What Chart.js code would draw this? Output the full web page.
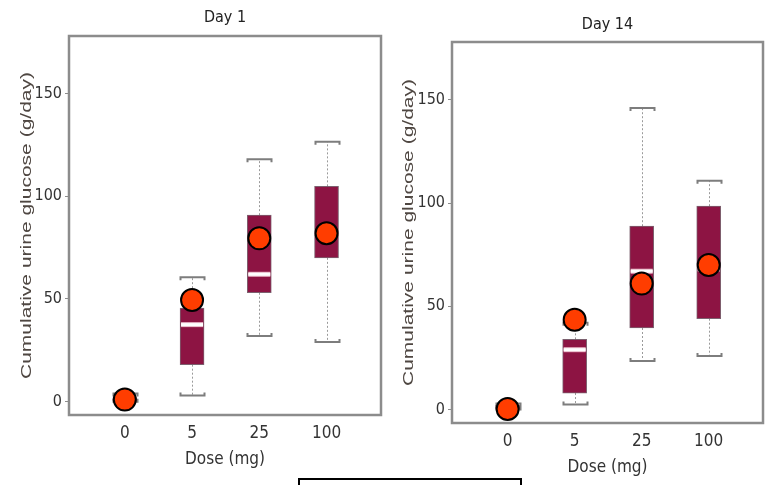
<!DOCTYPE html>
<html>
<head>
<meta charset="utf-8">
<script src="https://cdn.jsdelivr.net/npm/chart.js@4.4.1/dist/chart.umd.min.js"></script>
<style>
  html, body { margin: 0; padding: 0; background: #fff; }
  #page { position: relative; width: 768px; height: 485px; overflow: hidden; background: #fff; }
  canvas { position: absolute; top: 0; }
  #day1 { left: 0; }
  #day14 { left: 390px; }
  #keyBox { position: absolute; left: 298px; top: 478px; width: 220px; height: 20px; border: 2px solid #000; background: #fff; }
</style>
</head>
<body>
<div id="page">
  <canvas id="day1" width="390" height="485"></canvas>
  <canvas id="day14" width="378" height="485"></canvas>
  <div id="keyBox"></div>
</div>
<script>
// Dose groups and value-axis ticks
const doses = ['0', '5', '25', '100'];
const yTicks = [0, 50, 100, 150];
const yTitle = 'Cumulative urine glucose (g/day)';
const xTitle = 'Dose (mg)';

// Day 1: box statistics and group means (g/day)
const day1Min    = [0,   3,    32,   29];
const day1Q1     = [0,   18,   53,   70];
const day1Median = [0.5, 37.5, 62,   82];
const day1Q3     = [2,   45.5, 90.8, 104.8];
const day1Max    = [4,   60.5, 118,  126.5];
const day1Mean   = [1,   49.5, 79.5, 82];

// Day 14: box statistics and group means (g/day)
const day14Min    = [0,   2.5, 23.5, 26];
const day14Q1     = [0,   8,   39.5, 44];
const day14Median = [0.5, 29,  67,   68];
const day14Q3     = [2,   34,  88.8, 98.5];
const day14Max    = [3,   42,  146,  110.8];
const day14Mean   = [0.3, 43.5, 61,  70];

const NARROW = '"Liberation Sans Narrow", "Arial Narrow", "DejaVu Sans Condensed", sans-serif';
const REGULAR = '"Liberation Sans", Arial, sans-serif';
const BOX_HALF = 12;

// Grey frame around the plotting area
const framePlugin = {
  id: 'frame',
  beforeDatasetsDraw(chart) {
    const { ctx, chartArea: a } = chart;
    ctx.save();
    ctx.strokeStyle = '#8c8c8c';
    ctx.lineWidth = 2.5;
    ctx.strokeRect(a.left, a.top, a.right - a.left, a.bottom - a.top);
    ctx.restore();
  }
};

// Whiskers (dotted stems, bracket caps) and median bars for the box dataset
const boxPartsPlugin = {
  id: 'boxParts',
  beforeDatasetDraw(chart, args, opts) {
    if (args.index !== 0) return;
    const { ctx, scales: { x, y } } = chart;
    const s = opts.stats;
    ctx.save();
    for (let i = 0; i < s.min.length; i++) {
      const cx = Math.round(x.getPixelForValue(i)) + 0.5;
      const yMax = y.getPixelForValue(s.max[i]);
      const yMin = y.getPixelForValue(s.min[i]);
      const yQ1 = y.getPixelForValue(s.q1[i]);
      const yQ3 = y.getPixelForValue(s.q3[i]);
      ctx.strokeStyle = '#9a9a9a';
      ctx.lineWidth = 1;
      ctx.setLineDash([2, 2]);
      ctx.beginPath();
      ctx.moveTo(cx, yQ3); ctx.lineTo(cx, yMax);
      ctx.moveTo(cx, yQ1); ctx.lineTo(cx, yMin);
      ctx.stroke();
      ctx.setLineDash([]);
      ctx.strokeStyle = '#7d7d7d';
      ctx.lineWidth = 2;
      ctx.beginPath();
      ctx.moveTo(cx - BOX_HALF, yMax + 3); ctx.lineTo(cx - BOX_HALF, yMax);
      ctx.lineTo(cx + BOX_HALF, yMax); ctx.lineTo(cx + BOX_HALF, yMax + 3);
      ctx.moveTo(cx - BOX_HALF, yMin - 3); ctx.lineTo(cx - BOX_HALF, yMin);
      ctx.lineTo(cx + BOX_HALF, yMin); ctx.lineTo(cx + BOX_HALF, yMin - 3);
      ctx.stroke();
    }
    ctx.restore();
  },
  afterDatasetDraw(chart, args, opts) {
    if (args.index !== 0) return;
    const { ctx, scales: { x, y } } = chart;
    const s = opts.stats;
    ctx.save();
    for (let i = 1; i < s.median.length; i++) {
      const cx = x.getPixelForValue(i);
      const ym = y.getPixelForValue(s.median[i]);
      ctx.fillStyle = '#e8b7c6';
      ctx.fillRect(cx - BOX_HALF + 1, ym - 2.5, 2 * BOX_HALF - 2, 5);
      ctx.fillStyle = '#ffffff';
      ctx.fillRect(cx - BOX_HALF + 1, ym - 1.5, 2 * BOX_HALF - 2, 3);
    }
    ctx.restore();
  }
};

// Rotated value-axis title, stretched along its length
const yTitlePlugin = {
  id: 'yTitle',
  afterDraw(chart, args, opts) {
    const { ctx, chartArea: a } = chart;
    ctx.save();
    ctx.translate(opts.x, (a.top + a.bottom) / 2);
    ctx.rotate(-Math.PI / 2);
    ctx.scale(opts.stretch, 1);
    ctx.font = '14px ' + REGULAR;
    ctx.fillStyle = '#4f4742';
    ctx.textAlign = 'center';
    ctx.textBaseline = 'middle';
    ctx.fillText(yTitle, 0, 0);
    ctx.restore();
  }
};

function makePanel(canvasId, p) {
  const boxes = p.q1.map((q, i) => ({ x: i, y: [q, p.q3[i]] }));
  const means = p.mean.map((m, i) => ({ x: i, y: m }));
  return new Chart(document.getElementById(canvasId), {
    type: 'bar',
    data: {
      datasets: [
        {
          type: 'bar',
          data: boxes,
          backgroundColor: '#8d1443',
          borderColor: 'rgba(110,80,95,0.9)',
          borderWidth: 1,
          borderSkipped: false,
          barThickness: 2 * BOX_HALF,
          order: 2
        },
        {
          type: 'scatter',
          data: means,
          backgroundColor: '#ff3d00',
          borderColor: '#000',
          borderWidth: 2,
          pointRadius: 11,
          pointHoverRadius: 11,
          order: 0
        }
      ]
    },
    options: {
      responsive: false,
      animation: false,
      events: [],
      layout: { autoPadding: false, padding: { left: 0, right: p.padRight, top: 0, bottom: 0 } },
      plugins: {
        legend: { display: false },
        tooltip: { enabled: false },
        title: {
          display: true,
          text: p.title,
          fullSize: false,
          color: '#222',
          font: { family: NARROW, size: 16, weight: 'normal' },
          padding: { top: p.titleTop, bottom: p.titleBottom }
        },
        boxParts: { stats: { min: p.min, q1: p.q1, median: p.median, q3: p.q3, max: p.max } },
        yTitle: { x: p.yTitleX, stretch: 1.5 }
      },
      scales: {
        x: {
          type: 'linear',
          min: -0.83,
          max: 3.81,
          offset: false,
          afterBuildTicks: (axis) => { axis.ticks = doses.map((d, i) => ({ value: i })); },
          afterFit: (axis) => {
            axis.height = 485 - p.bottom;
            axis.paddingLeft = 0;
            axis.paddingRight = 0;
          },
          ticks: {
            callback: (v) => doses[v],
            autoSkip: false,
            maxRotation: 0,
            padding: 8,
            color: '#333',
            font: { family: NARROW, size: 17 }
          },
          grid: { display: false, drawTicks: false, offset: false },
          border: { display: false },
          title: {
            display: true,
            text: xTitle,
            color: '#333',
            font: { family: NARROW, size: 17 },
            padding: { top: 0, bottom: p.xTitleBottom }
          }
        },
        y: {
          min: -6.5,
          max: 178,
          afterBuildTicks: (axis) => { axis.ticks = yTicks.map(v => ({ value: v })); },
          afterFit: (axis) => {
            axis.width = p.left;
            axis.paddingTop = 0;
            axis.paddingBottom = 0;
          },
          ticks: {
            padding: 3,
            color: '#333',
            font: { family: NARROW, size: 16 }
          },
          grid: { drawOnChartArea: false, drawTicks: true, tickLength: 4, color: '#8c8c8c' },
          border: { display: false }
        }
      }
    },
    plugins: [framePlugin, boxPartsPlugin, yTitlePlugin]
  });
}

makePanel('day1', {
  title: 'Day 1',
  min: day1Min, q1: day1Q1, median: day1Median, q3: day1Q3, max: day1Max, mean: day1Mean,
  left: 69, padRight: 9, bottom: 415,
  titleTop: 8, titleBottom: 8.8,
  xTitleBottom: 15, yTitleX: 27
});

makePanel('day14', {
  title: 'Day 14',
  min: day14Min, q1: day14Q1, median: day14Median, q3: day14Q3, max: day14Max, mean: day14Mean,
  left: 62, padRight: 5, bottom: 423,
  titleTop: 15.5, titleBottom: 7.3,
  xTitleBottom: 7.3, yTitleX: 19
});
</script>
</body>
</html>
